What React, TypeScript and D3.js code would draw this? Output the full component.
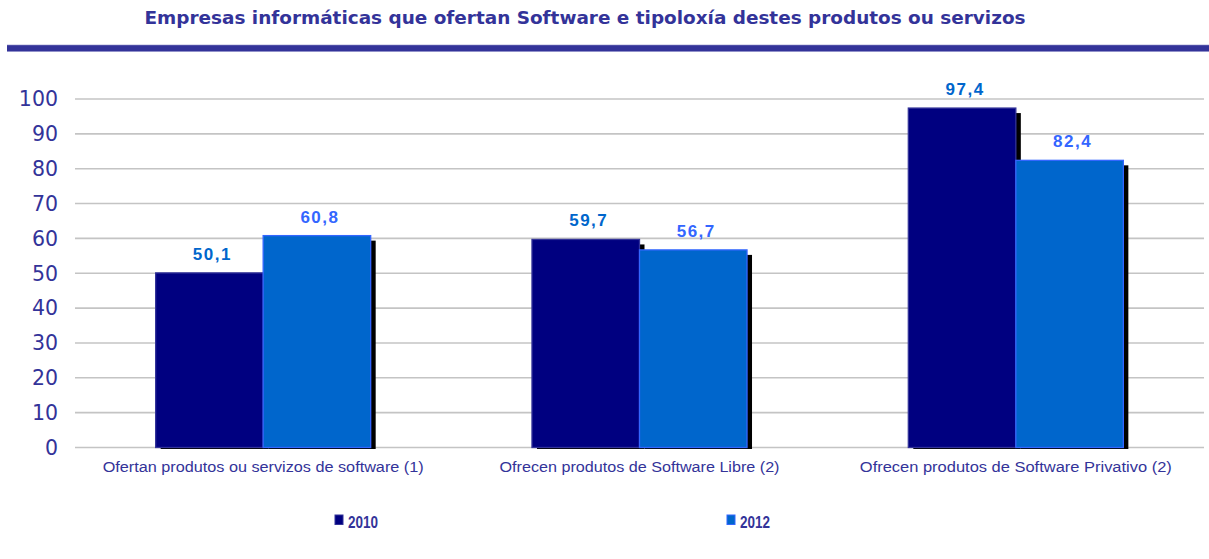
import React from "react";
import * as d3 from "d3";

const categories = [
  "Ofertan produtos ou servizos de software (1)",
  "Ofrecen produtos de Software Libre (2)",
  "Ofrecen produtos de Software Privativo (2)",
];
const seriesNames = ["2010", "2012"];
const values2010 = [50.1, 59.7, 97.4];
const values2012 = [60.8, 56.7, 82.4];
const yTicks = [0, 10, 20, 30, 40, 50, 60, 70, 80, 90, 100];
const categoryLabelWidths = [321, 280, 312];

const W = 1209;
const H = 559;
const X0 = 75;
const X1 = 1204;
const Y0 = 447.5;
const Y1 = 99;

const fills = ["#000080", "#0066CC"];
const strokes = ["#333399", "#3366FF"];
const labelColors = ["#0066CC", "#3366FF"];

export default function App() {
  const x = d3.scaleBand<string>().domain(categories).range([X0, X1]).padding(0);
  const y = d3.scaleLinear().domain([0, 100]).range([Y0, Y1]);
  const groupW = x.bandwidth() * 0.5714;
  const inner = d3
    .scaleBand<string>()
    .domain(seriesNames)
    .range([0, groupW])
    .padding(0);
  const bw = inner.bandwidth();
  const series = [values2010, values2012];
  const fmt = (v: number) => v.toFixed(1).replace(".", ",");

  return (
    <svg
      width={W}
      height={H}
      style={{ position: "absolute", left: 0, top: 0, background: "#fff" }}
    >
      <text
        x={585}
        y={24}
        textAnchor="middle"
        fontFamily="DejaVu Sans"
        fontWeight="bold"
        fontSize={18}
        fill="#333399"
        textLength={881}
        lengthAdjust="spacingAndGlyphs"
      >
        Empresas informáticas que ofertan Software e tipoloxía destes produtos ou servizos
      </text>
      <rect x={7} y={45} width={W - 7} height={6.5} fill="#333399" />
      <rect x={7} y={44.5} width={W - 7} height={1} fill="#8c8cc8" opacity={0.6} />
      <rect x={7} y={51} width={W - 7} height={1} fill="#8c8cc8" opacity={0.6} />

      {yTicks.map((t) => (
        <g key={t}>
          <line x1={X0} x2={X1} y1={y(t)} y2={y(t)} stroke="#c4c4c4" strokeWidth={1.6} />
          <text
            x={58}
            y={y(t)}
            dy="0.36em"
            textAnchor="end"
            fontFamily="DejaVu Sans"
            fontSize={20.5}
            fill="#333399"
          >
            {t}
          </text>
        </g>
      ))}

      {categories.map((c, ci) => {
        const gx = (x(c) as number) + (x.bandwidth() - groupW) / 2;
        return (
          <g key={c}>
            {seriesNames.map((s, si) => {
              const v = series[si][ci];
              const bx = gx + (inner(s) as number);
              const by = y(v);
              return (
                <g key={s}>
                  <rect x={bx + 5} y={by + 5} width={bw} height={Y0 + 1.5 - (by + 5)} fill="#000" />
                  <rect
                    x={bx}
                    y={by}
                    width={bw}
                    height={Y0 - by}
                    fill={fills[si]}
                    stroke={strokes[si]}
                    strokeWidth={1.3}
                  />
                </g>
              );
            })}
            {seriesNames.map((s, si) => {
              const v = series[si][ci];
              const bx = gx + (inner(s) as number);
              return (
                <text
                  key={s}
                  x={bx + bw / 2 + 3}
                  y={y(v) - 13}
                  textAnchor="middle"
                  fontFamily="Liberation Sans"
                  fontWeight="bold"
                  fontSize={17}
                  letterSpacing={1.5}
                  fill={labelColors[si]}
                >
                  {fmt(v)}
                </text>
              );
            })}
            <text
              x={(x(c) as number) + x.bandwidth() / 2}
              y={472}
              textAnchor="middle"
              fontFamily="Liberation Sans"
              fontSize={14}
              fill="#333399"
              textLength={categoryLabelWidths[ci]}
              lengthAdjust="spacingAndGlyphs"
            >
              {c}
            </text>
          </g>
        );
      })}

      {seriesNames.map((s, si) => {
        const lx = si === 0 ? 335 : 727;
        return (
          <g key={s}>
            <rect x={lx} y={515} width={8} height={9.5} fill={fills[si]} stroke={strokes[si]} strokeWidth={1} />
            <text
              x={lx + 13}
              y={527.5}
              fontFamily="Liberation Sans"
              fontWeight="bold"
              fontSize={16.5}
              fill="#333399"
              textLength={30}
              lengthAdjust="spacingAndGlyphs"
            >
              {s}
            </text>
          </g>
        );
      })}
    </svg>
  );
}
